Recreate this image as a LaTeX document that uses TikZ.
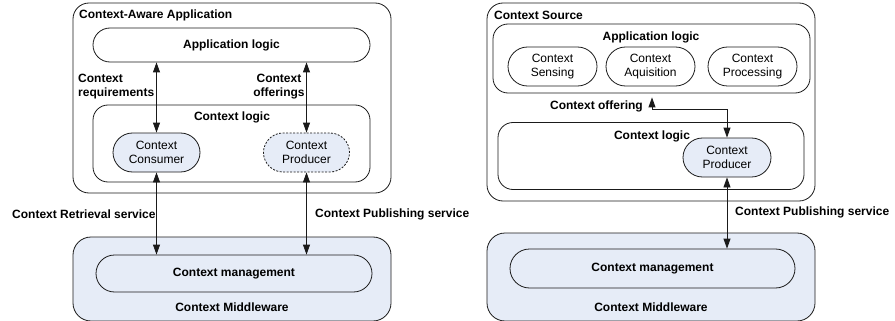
\documentclass[tikz,border=0pt]{standalone}
\usepackage{fontspec}
\setmainfont{Liberation Sans}
\usetikzlibrary{arrows.meta,shapes.misc}
\definecolor{ctxblue}{HTML}{E6ECF7}
\definecolor{lin}{HTML}{1A1A1A}
\tikzset{
  box/.style={draw=lin, line width=0.8pt, inner sep=0pt, rounded corners=#1},
  box/.default=15pt,
  pill/.style={draw=lin, line width=0.8pt, rounded rectangle, inner sep=0pt, align=center,
     font=\fontsize{12}{13.5}\selectfont},
  lbl/.style={inner sep=0pt, font=\bfseries\fontsize{12}{14}\selectfont, align=center},
  arr/.style={line width=0.8pt, draw=lin, {Triangle[length=10pt,width=7pt]}-{Triangle[length=10pt,width=7pt]}},
  arrend/.style={line width=0.8pt, draw=lin, -{Triangle[length=10pt,width=7pt]}},
}
\begin{document}
\begin{tikzpicture}[x=1pt,y=-1pt]
\useasboundingbox (0,0) rectangle (895,321);
% ---------- Left ----------
\node[box=16pt, minimum width=318pt, minimum height=190pt] (appA) at (232,98) {};
\node[lbl, anchor=west] (appAt) at (79,15) {Context-Aware Application};
\node[pill, minimum width=277pt, minimum height=34pt, font=\bfseries\fontsize{12}{14}\selectfont] (applogL) at (231.5,45) {Application logic};
\node[box, minimum width=277pt, minimum height=77pt] (ctxlogL) at (231.5,143.5) {};
\node[lbl] (ctxlogLt) at (232,117) {Context logic};
\node[pill, fill=ctxblue, minimum width=87pt, minimum height=39pt] (consumer) at (156.5,152.5) {Context\\Consumer};
\node[pill, fill=ctxblue, dash pattern=on 2pt off 1.5pt, minimum width=86pt, minimum height=39pt] (producerL) at (306.5,152.5) {Context\\Producer};
\node[box=18pt, fill=ctxblue, minimum width=318pt, minimum height=84pt] (mwL) at (232,279) {};
\node[pill, fill=ctxblue, minimum width=276pt, minimum height=37pt, font=\bfseries\fontsize{12}{14}\selectfont] (mgmtL) at (234,273.5) {Context management};
\node[lbl] (mwLt) at (232,307) {Context Middleware};
\node[lbl, anchor=west, align=left] (reqt) at (78,87) {Context\\requirements};
\node[lbl] (offt) at (279,87) {Context\\offerings};
\node[lbl, anchor=west] (retr) at (12,214) {Context Retrieval service};
\node[lbl, anchor=west] (publ) at (315,214) {Context Publishing service};
\draw[arr] (applogL.south -| consumer.north) -- (consumer.north);
\draw[arr] (applogL.south -| producerL.north) -- (producerL.north);
\draw[arr] (consumer.south) -- (consumer.south |- mgmtL.north);
\draw[arr] (producerL.south) -- (producerL.south |- mgmtL.north);
% ---------- Right ----------
\node[box=16pt, minimum width=328pt, minimum height=198pt] (srcR) at (651,102) {};
\node[lbl, anchor=west] (srcRt) at (494,15) {Context Source};
\node[box, minimum width=317pt, minimum height=69pt] (applogR) at (651.5,58.5) {};
\node[lbl] (applogRt) at (651,37) {Application logic};
\node[pill, minimum width=89pt, minimum height=39pt] (sensing) at (552.5,66.5) {Context\\Sensing};
\node[pill, minimum width=89pt, minimum height=39pt] (aquis) at (650.5,66.5) {Context\\Aquisition};
\node[pill, minimum width=89pt, minimum height=39pt] (proc) at (752.5,66.5) {Context\\Processing};
\node[box, minimum width=306pt, minimum height=67pt] (ctxlogR) at (651,156) {};
\node[lbl] (ctxlogRt) at (652,136) {Context logic};
\node[pill, fill=ctxblue, minimum width=88pt, minimum height=39pt] (producerR) at (727,157.5) {Context\\Producer};
\node[box=18pt, fill=ctxblue, minimum width=328pt, minimum height=88pt] (mwR) at (651,277) {};
\node[pill, fill=ctxblue, minimum width=285pt, minimum height=39pt, font=\bfseries\fontsize{12}{14}\selectfont] (mgmtR) at (652.5,268.5) {Context management};
\node[lbl] (mwRt) at (651,307) {Context Middleware};
\node[lbl, anchor=east] (offR) at (643,106) {Context offering};
\node[lbl, anchor=west] (publR) at (735,212) {Context Publishing service};
\coordinate (bend) at (652,109);
\coordinate (bend2) at (727,109);
\draw[arrend, shorten >=4pt] (bend) -- (bend |- applogR.south);
\draw[arrend] (bend) -- (bend2) -- (producerR.north);
\draw[arr] (producerR.south) -- (producerR.south |- mgmtR.north);
\end{tikzpicture}
\end{document}
